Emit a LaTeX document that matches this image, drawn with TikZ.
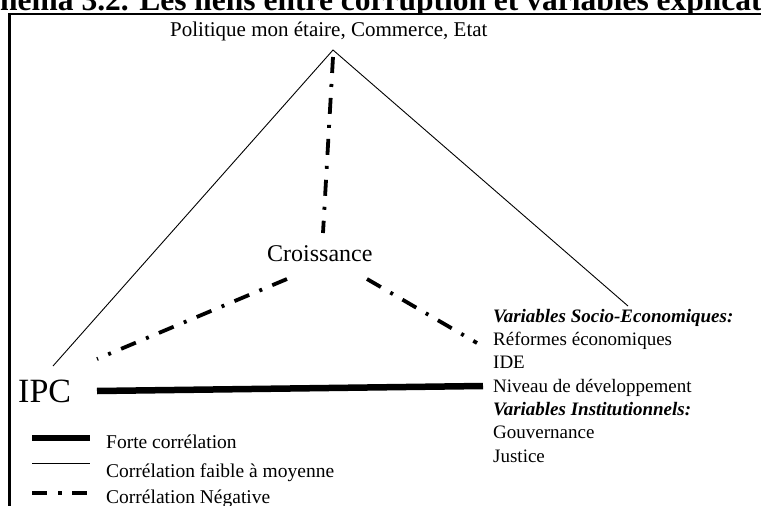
\documentclass[tikz,border=0pt]{standalone}
\usepackage{fontspec}
\setmainfont{Liberation Serif}
\begin{document}
\begin{tikzpicture}[x=1pt,y=-1pt,
  txt/.style={inner sep=0pt,anchor=base west},
  thin/.style={line width=0.9pt},
  strong/.style={line width=6.5pt},
  negdash/.style={line width=3.8pt,dash pattern=on 16pt off 11pt on 3pt off 11pt},
  frame/.style={line width=2.6pt}]
\useasboundingbox (0,0) rectangle (761,506);
\fill[white] (0,0) rectangle (761,506);
% title, cut by the page edge
\begin{scope}
\clip (0,0) rectangle (761,12);
\node[txt,font=\fontsize{31.5}{36}\selectfont\bfseries] (title) at (-31.5,10) {Schéma 3.2. Les liens entre corruption et variables explicatives};
\end{scope}
% frame
\draw[frame] (761,14) -- (9.5,14) -- (9.5,506);
% texts
\node[txt,font=\fontsize{21}{25}\selectfont] (pol) at (170,36) {Politique mon étaire, Commerce, Etat};
\node[txt,font=\fontsize{24}{28}\selectfont] (cro) at (267,261) {Croissance};
\node[txt,font=\fontsize{34}{40}\selectfont] (ipc) at (18,402) {IPC};
\node[txt,font=\fontsize{19}{23}\selectfont\bfseries\itshape] (vse) at (493,322) {Variables Socio-Economiques:};
\node[txt,font=\fontsize{19}{23}\selectfont] (ref) at (493,345) {Réformes économiques};
\node[txt,font=\fontsize{19}{23}\selectfont] (ide) at (493,368) {IDE};
\node[txt,font=\fontsize{19}{23}\selectfont] (niv) at (493,392) {Niveau de développement};
\node[txt,font=\fontsize{19}{23}\selectfont\bfseries\itshape] (vin) at (493,415) {Variables Institutionnels:};
\node[txt,font=\fontsize{19}{23}\selectfont] (gou) at (493,438) {Gouvernance};
\node[txt,font=\fontsize{19}{23}\selectfont] (jus) at (493,462) {Justice};
% anchor points
\coordinate (apex) at (333,50);
\coordinate (apexd) at (333,57);
\coordinate (ipcTop) at (53,366);
\coordinate (vseE) at (628,306);
\coordinate (croTop) at (323,233);
\coordinate (croL) at (287,279);
\coordinate (croR) at (367,279);
\coordinate (ipcR) at (97,359);
\coordinate (ipcM) at (97,391);
\coordinate (refL) at (477,343);
\coordinate (nivL) at (483,386);
% connectors
\draw[thin] (ipcTop) -- (apex) -- (vseE);
\draw[negdash] (apexd) -- (croTop);
\draw[negdash] (croL) -- (ipcR);
\draw[negdash] (croR) -- (refL);
\draw[strong] (ipcM) -- (nivL);
% legend
\coordinate (l1a) at (32,438); \coordinate (l1b) at (90,438);
\coordinate (l2a) at (32,463); \coordinate (l2b) at (90,463);
\coordinate (l3a) at (32,493); \coordinate (l3b) at (90,493);
\draw[strong] (l1a) -- (l1b);
\draw[thin] (l2a) -- (l2b);
\draw[negdash,dash pattern=on 15pt off 11pt on 4pt off 10pt] (l3a) -- (l3b);
\node[txt,font=\fontsize{19.5}{23}\selectfont] (leg1) at (106,448) {Forte corrélation};
\node[txt,font=\fontsize{19.5}{23}\selectfont] (leg2) at (106,477) {Corrélation faible à moyenne};
\node[txt,font=\fontsize{19.5}{23}\selectfont] (leg3) at (106,503) {Corrélation Négative};
\end{tikzpicture}
\end{document}
